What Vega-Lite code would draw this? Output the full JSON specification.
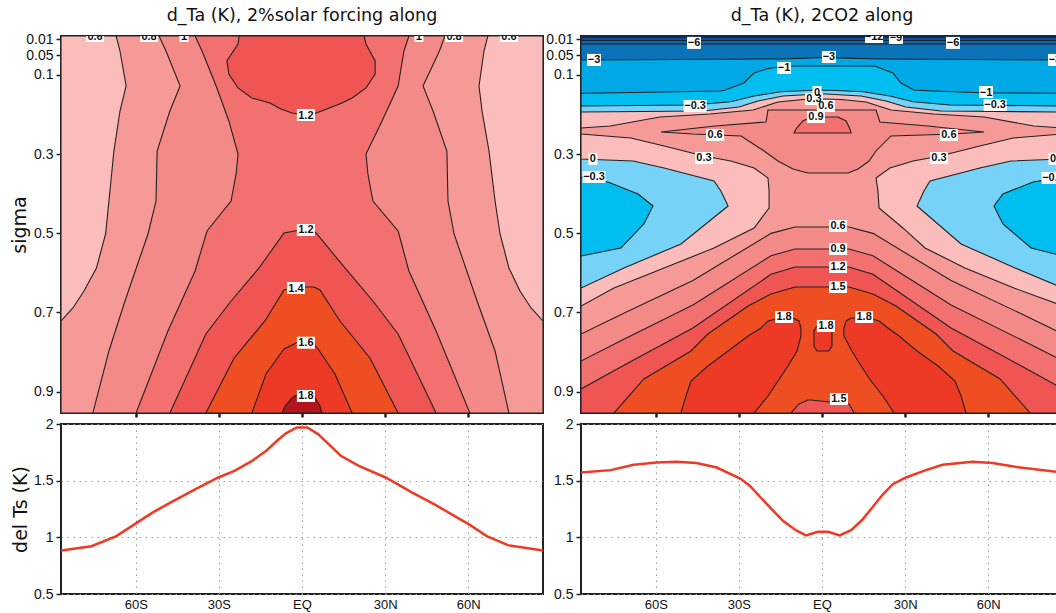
{
  "$schema": "https://vega.github.io/schema/vega-lite/v6.json",
  "padding": {"left": 9, "top": 5, "right": -6, "bottom": 0},
  "background": "white",
  "bounds": "flush",
  "columns": 2,
  "spacing": {"row": 11, "column": 38},
  "resolve": {"scale": {"color": "independent", "x": "independent", "y": "independent"}},
  "config": {
    "view": {"stroke": "#222", "strokeWidth": 2},
    "axis": {"labelFont": "Liberation Sans", "labelFontSize": 14, "labelColor": "#111", "titleFont": "DejaVu Sans", "titleFontSize": 19, "titleFontWeight": "normal", "titleColor": "#111", "domain": false, "tickColor": "#222", "labelPadding": 3},
    "title": {"font": "DejaVu Sans", "fontSize": 17.5, "fontWeight": "normal", "color": "#111", "offset": 8}
  },
  "datasets": {
    "regL": [
      {"id": "L0", "lev": 0, "s": 0.0015, "a": -87, "b": 87},
      {"id": "L0", "lev": 0, "s": 0.954, "a": -87, "b": 87},
      {"id": "L1", "lev": 0.6, "s": 0.0015, "a": -67.1, "b": 67.1},
      {"id": "L1", "lev": 0.6, "s": 0.0394, "a": -65.7, "b": 65.7},
      {"id": "L1", "lev": 0.6, "s": 0.1278, "a": -63.5, "b": 63.9},
      {"id": "L1", "lev": 0.6, "s": 0.191, "a": -65.7, "b": 65.0},
      {"id": "L1", "lev": 0.6, "s": 0.292, "a": -67.9, "b": 67.5},
      {"id": "L1", "lev": 0.6, "s": 0.4184, "a": -69.7, "b": 69.7},
      {"id": "L1", "lev": 0.6, "s": 0.5017, "a": -70.9, "b": 71.5},
      {"id": "L1", "lev": 0.6, "s": 0.5876, "a": -74.2, "b": 74.7},
      {"id": "L1", "lev": 0.6, "s": 0.6457, "a": -78.7, "b": 78.7},
      {"id": "L1", "lev": 0.6, "s": 0.6886, "a": -82.7, "b": 82.7},
      {"id": "L1", "lev": 0.6, "s": 0.7215, "a": -87, "b": 87},
      {"id": "L1", "lev": 0.6, "s": 0.954, "a": -87, "b": 87},
      {"id": "L2", "lev": 0.8, "s": 0.0015, "a": -51.6, "b": 51.6},
      {"id": "L2", "lev": 0.8, "s": 0.0394, "a": -49.1, "b": 49.6},
      {"id": "L2", "lev": 0.8, "s": 0.1278, "a": -44.0, "b": 43.7},
      {"id": "L2", "lev": 0.8, "s": 0.191, "a": -47.7, "b": 47.3},
      {"id": "L2", "lev": 0.8, "s": 0.292, "a": -52.3, "b": 52.3},
      {"id": "L2", "lev": 0.8, "s": 0.4184, "a": -52.7, "b": 52.7},
      {"id": "L2", "lev": 0.8, "s": 0.5017, "a": -55.6, "b": 54.9},
      {"id": "L2", "lev": 0.8, "s": 0.671, "a": -63.9, "b": 63.2},
      {"id": "L2", "lev": 0.8, "s": 0.7973, "a": -69.7, "b": 69.7},
      {"id": "L2", "lev": 0.8, "s": 0.954, "a": -75.5, "b": 74.7},
      {"id": "L3", "lev": 1.0, "s": 0.0015, "a": -38.6, "b": 38.6},
      {"id": "L3", "lev": 1.0, "s": 0.0394, "a": -36.1, "b": 36.8},
      {"id": "L3", "lev": 1.0, "s": 0.1278, "a": -31.0, "b": 34.7},
      {"id": "L3", "lev": 1.0, "s": 0.2162, "a": -26.4, "b": 28.9},
      {"id": "L3", "lev": 1.0, "s": 0.2996, "a": -23.1, "b": 23.1},
      {"id": "L3", "lev": 1.0, "s": 0.3501, "a": -23.8, "b": 23.8},
      {"id": "L3", "lev": 1.0, "s": 0.4184, "a": -25.6, "b": 25.6},
      {"id": "L3", "lev": 1.0, "s": 0.4942, "a": -34.3, "b": 34.7},
      {"id": "L3", "lev": 1.0, "s": 0.5952, "a": -38.6, "b": 38.6},
      {"id": "L3", "lev": 1.0, "s": 0.7468, "a": -48.4, "b": 48.4},
      {"id": "L3", "lev": 1.0, "s": 0.954, "a": -59.9, "b": 60.6},
      {"id": "L4", "lev": 1.2, "s": 0.0015, "a": -22.7, "b": 22.4},
      {"id": "L4", "lev": 1.2, "s": 0.0217, "a": -23.1, "b": 23.1},
      {"id": "L4", "lev": 1.2, "s": 0.0646, "a": -27.1, "b": 26.4},
      {"id": "L4", "lev": 1.2, "s": 0.0975, "a": -26.4, "b": 26.4},
      {"id": "L4", "lev": 1.2, "s": 0.1328, "a": -23.1, "b": 23.1},
      {"id": "L4", "lev": 1.2, "s": 0.158, "a": -18.1, "b": 18.1},
      {"id": "L4", "lev": 1.2, "s": 0.1707, "a": -11.6, "b": 14.4},
      {"id": "L4", "lev": 1.2, "s": 0.1859, "a": -7.6, "b": 9.0},
      {"id": "L4", "lev": 1.2, "s": 0.196, "a": -3.6, "b": 5.1},
      {"id": "L4", "lev": 1.2, "s": 0.2011, "a": 0.7, "b": 0.7},
      {"id": "L5", "lev": 1.2, "s": 0.4916, "a": -0.7, "b": 3.6},
      {"id": "L5", "lev": 1.2, "s": 0.4992, "a": -6.5, "b": 5.1},
      {"id": "L5", "lev": 1.2, "s": 0.5876, "a": -15.5, "b": 15.5},
      {"id": "L5", "lev": 1.2, "s": 0.671, "a": -25.6, "b": 25.6},
      {"id": "L5", "lev": 1.2, "s": 0.7544, "a": -34.7, "b": 34.7},
      {"id": "L5", "lev": 1.2, "s": 0.954, "a": -47.7, "b": 48.4},
      {"id": "L6", "lev": 1.4, "s": 0.6356, "a": -2.5, "b": 4.3},
      {"id": "L6", "lev": 1.4, "s": 0.6432, "a": -6.5, "b": 6.5},
      {"id": "L6", "lev": 1.4, "s": 0.7215, "a": -13.4, "b": 13.7},
      {"id": "L6", "lev": 1.4, "s": 0.815, "a": -24.5, "b": 24.5},
      {"id": "L6", "lev": 1.4, "s": 0.954, "a": -34.7, "b": 34.7},
      {"id": "L7", "lev": 1.6, "s": 0.7746, "a": -1.4, "b": 3.6},
      {"id": "L7", "lev": 1.6, "s": 0.7923, "a": -6.5, "b": 5.8},
      {"id": "L7", "lev": 1.6, "s": 0.8554, "a": -13.0, "b": 11.9},
      {"id": "L7", "lev": 1.6, "s": 0.954, "a": -18.1, "b": 18.1},
      {"id": "L8", "lev": 1.8, "s": 0.9035, "a": -0.7, "b": 2.2},
      {"id": "L8", "lev": 1.8, "s": 0.9161, "a": -3.6, "b": 4.7},
      {"id": "L8", "lev": 1.8, "s": 0.9363, "a": -6.1, "b": 6.5},
      {"id": "L8", "lev": 1.8, "s": 0.954, "a": -7.2, "b": 7.2}
    ],
    "regR": [
      {"id": "R00", "lev": -99, "s": 0.0015, "a": -87, "b": 87},
      {"id": "R00", "lev": -99, "s": 0.954, "a": -87, "b": 87},
      {"id": "R01", "lev": -12, "s": 0.0053, "a": -87, "b": 87},
      {"id": "R01", "lev": -12, "s": 0.954, "a": -87, "b": 87},
      {"id": "R02", "lev": -9, "s": 0.0128, "a": -87, "b": 87},
      {"id": "R02", "lev": -9, "s": 0.954, "a": -87, "b": 87},
      {"id": "R03", "lev": -6, "s": 0.0217, "a": -87, "b": 87},
      {"id": "R03", "lev": -6, "s": 0.954, "a": -87, "b": 87},
      {"id": "R04", "lev": -3, "s": 0.0562, "a": -1, "b": 1},
      {"id": "R04", "lev": -3, "s": 0.0595, "a": -15, "b": 21},
      {"id": "R04", "lev": -3, "s": 0.0621, "a": -87, "b": 87},
      {"id": "R04", "lev": -3, "s": 0.954, "a": -87, "b": 87},
      {"id": "R05", "lev": -1, "s": 0.0773, "a": -12.3, "b": 19.1},
      {"id": "R05", "lev": -1, "s": 0.0836, "a": -19.5, "b": 21.3},
      {"id": "R05", "lev": -1, "s": 0.0949, "a": -24.5, "b": 25.6},
      {"id": "R05", "lev": -1, "s": 0.1202, "a": -28.2, "b": 28.5},
      {"id": "R05", "lev": -1, "s": 0.1379, "a": -35.0, "b": 33.2},
      {"id": "R05", "lev": -1, "s": 0.1404, "a": -36.5, "b": 40.1},
      {"id": "R05", "lev": -1, "s": 0.1447, "a": -74.0, "b": 57.4},
      {"id": "R05", "lev": -1, "s": 0.1462, "a": -87, "b": 87},
      {"id": "R05", "lev": -1, "s": 0.954, "a": -87, "b": 87},
      {"id": "R06", "lev": -0.3, "s": 0.1387, "a": -2.9, "b": 2.9},
      {"id": "R06", "lev": -0.3, "s": 0.1422, "a": -14.8, "b": 14.8},
      {"id": "R06", "lev": -0.3, "s": 0.1531, "a": -24.5, "b": 24.5},
      {"id": "R06", "lev": -0.3, "s": 0.1675, "a": -32.9, "b": 32.9},
      {"id": "R06", "lev": -0.3, "s": 0.1758, "a": -46.2, "b": 46.2},
      {"id": "R06", "lev": -0.3, "s": 0.1783, "a": -87, "b": 87},
      {"id": "R06", "lev": -0.3, "s": 0.3577, "a": -87, "b": 87},
      {"id": "R06", "lev": -0.3, "s": 0.3703, "a": -77.3, "b": 76.2},
      {"id": "R06", "lev": -0.3, "s": 0.4006, "a": -66.4, "b": 65.3},
      {"id": "R06", "lev": -0.3, "s": 0.431, "a": -61.0, "b": 62.1},
      {"id": "R06", "lev": -0.3, "s": 0.4764, "a": -64.3, "b": 65.3},
      {"id": "R06", "lev": -0.3, "s": 0.5371, "a": -72.6, "b": 75.5},
      {"id": "R06", "lev": -0.3, "s": 0.5573, "a": -87, "b": 87},
      {"id": "R06", "lev": -0.3, "s": 0.954, "a": -87, "b": 87},
      {"id": "R07", "lev": 0, "s": 0.148, "a": -1.4, "b": 1.4},
      {"id": "R07", "lev": 0, "s": 0.1531, "a": -14.1, "b": 14.1},
      {"id": "R07", "lev": 0, "s": 0.1657, "a": -23.1, "b": 23.1},
      {"id": "R07", "lev": 0, "s": 0.1808, "a": -30.0, "b": 30.3},
      {"id": "R07", "lev": 0, "s": 0.191, "a": -43.0, "b": 43.0},
      {"id": "R07", "lev": 0, "s": 0.1935, "a": -87, "b": 87},
      {"id": "R07", "lev": 0, "s": 0.3122, "a": -87, "b": 87},
      {"id": "R07", "lev": 0, "s": 0.3173, "a": -68.2, "b": 68.2},
      {"id": "R07", "lev": 0, "s": 0.335, "a": -57.0, "b": 57.0},
      {"id": "R07", "lev": 0, "s": 0.3678, "a": -39.0, "b": 39.0},
      {"id": "R07", "lev": 0, "s": 0.3931, "a": -36.5, "b": 36.8},
      {"id": "R07", "lev": 0, "s": 0.431, "a": -33.9, "b": 34.3},
      {"id": "R07", "lev": 0, "s": 0.527, "a": -50.9, "b": 50.2},
      {"id": "R07", "lev": 0, "s": 0.5876, "a": -71.5, "b": 69.7},
      {"id": "R07", "lev": 0, "s": 0.6382, "a": -87, "b": 87},
      {"id": "R07", "lev": 0, "s": 0.954, "a": -87, "b": 87},
      {"id": "R08", "lev": 0.3, "s": 0.1606, "a": -1.4, "b": 1.4},
      {"id": "R08", "lev": 0.3, "s": 0.1619, "a": -6.9, "b": 6.9},
      {"id": "R08", "lev": 0.3, "s": 0.1682, "a": -15.9, "b": 15.9},
      {"id": "R08", "lev": 0.3, "s": 0.1884, "a": -24.9, "b": 24.9},
      {"id": "R08", "lev": 0.3, "s": 0.1985, "a": -40.4, "b": 40.4},
      {"id": "R08", "lev": 0.3, "s": 0.2061, "a": -58.5, "b": 58.5},
      {"id": "R08", "lev": 0.3, "s": 0.2289, "a": -76.5, "b": 76.5},
      {"id": "R08", "lev": 0.3, "s": 0.2339, "a": -87, "b": 87},
      {"id": "R08", "lev": 0.3, "s": 0.2491, "a": -87, "b": 87},
      {"id": "R08", "lev": 0.3, "s": 0.2592, "a": -69.0, "b": 69.0},
      {"id": "R08", "lev": 0.3, "s": 0.2794, "a": -57.0, "b": 57.0},
      {"id": "R08", "lev": 0.3, "s": 0.3046, "a": -42.6, "b": 42.6},
      {"id": "R08", "lev": 0.3, "s": 0.3173, "a": -32.9, "b": 32.9},
      {"id": "R08", "lev": 0.3, "s": 0.335, "a": -24.5, "b": 24.5},
      {"id": "R08", "lev": 0.3, "s": 0.3602, "a": -19.5, "b": 19.5},
      {"id": "R08", "lev": 0.3, "s": 0.3931, "a": -19.1, "b": 20.2},
      {"id": "R08", "lev": 0.3, "s": 0.436, "a": -19.1, "b": 20.6},
      {"id": "R08", "lev": 0.3, "s": 0.4865, "a": -24.5, "b": 29.2},
      {"id": "R08", "lev": 0.3, "s": 0.5371, "a": -39.0, "b": 37.2},
      {"id": "R08", "lev": 0.3, "s": 0.5876, "a": -57.0, "b": 51.6},
      {"id": "R08", "lev": 0.3, "s": 0.6382, "a": -75.1, "b": 69.3},
      {"id": "R08", "lev": 0.3, "s": 0.6837, "a": -87, "b": 87},
      {"id": "R08", "lev": 0.3, "s": 0.954, "a": -87, "b": 87},
      {"id": "R09", "lev": 0.6, "s": 0.1884, "a": -19.5, "b": 19.5},
      {"id": "R09", "lev": 0.6, "s": 0.2187, "a": -20.2, "b": 20.9},
      {"id": "R09", "lev": 0.6, "s": 0.2289, "a": -38.6, "b": 38.3},
      {"id": "R09", "lev": 0.6, "s": 0.2364, "a": -48.4, "b": 48.4},
      {"id": "R09", "lev": 0.6, "s": 0.244, "a": -58.1, "b": 58.5},
      {"id": "R09", "lev": 0.6, "s": 0.2491, "a": -46.6, "b": 47.3},
      {"id": "R09", "lev": 0.6, "s": 0.2541, "a": -29.2, "b": 24.9},
      {"id": "R09", "lev": 0.6, "s": 0.292, "a": -20.9, "b": 19.5},
      {"id": "R09", "lev": 0.6, "s": 0.3173, "a": -15.9, "b": 17.0},
      {"id": "R09", "lev": 0.6, "s": 0.3375, "a": -10.5, "b": 13.0},
      {"id": "R09", "lev": 0.6, "s": 0.3476, "a": -5.1, "b": 9.4},
      {"id": "R10", "lev": 0.6, "s": 0.4841, "a": -9.7, "b": 9.7},
      {"id": "R10", "lev": 0.6, "s": 0.5002, "a": -18.4, "b": 18.4},
      {"id": "R10", "lev": 0.6, "s": 0.6192, "a": -46.6, "b": 46.6},
      {"id": "R10", "lev": 0.6, "s": 0.7003, "a": -71, "b": 71},
      {"id": "R10", "lev": 0.6, "s": 0.7544, "a": -87, "b": 87},
      {"id": "R10", "lev": 0.6, "s": 0.954, "a": -87, "b": 87},
      {"id": "R11", "lev": 0.9, "s": 0.2061, "a": -4.0, "b": 5.8},
      {"id": "R11", "lev": 0.9, "s": 0.2162, "a": -6.9, "b": 8.7},
      {"id": "R11", "lev": 0.9, "s": 0.2364, "a": -9.4, "b": 10.1},
      {"id": "R11", "lev": 0.9, "s": 0.2465, "a": -10.1, "b": 10.5},
      {"id": "R12", "lev": 0.9, "s": 0.5396, "a": -9.7, "b": 9.7},
      {"id": "R12", "lev": 0.9, "s": 0.5565, "a": -18.4, "b": 18.4},
      {"id": "R12", "lev": 0.9, "s": 0.6811, "a": -46.6, "b": 46.6},
      {"id": "R12", "lev": 0.9, "s": 0.766, "a": -71, "b": 71},
      {"id": "R12", "lev": 0.9, "s": 0.8226, "a": -87, "b": 87},
      {"id": "R12", "lev": 0.9, "s": 0.954, "a": -87, "b": 87},
      {"id": "R13", "lev": 1.2, "s": 0.5851, "a": -9.7, "b": 9.7},
      {"id": "R13", "lev": 1.2, "s": 0.6036, "a": -18.4, "b": 18.4},
      {"id": "R13", "lev": 1.2, "s": 0.7392, "a": -46.6, "b": 46.6},
      {"id": "R13", "lev": 1.2, "s": 0.8317, "a": -71, "b": 71},
      {"id": "R13", "lev": 1.2, "s": 0.8933, "a": -87, "b": 87},
      {"id": "R13", "lev": 1.2, "s": 0.954, "a": -87, "b": 87},
      {"id": "R14", "lev": 1.5, "s": 0.6356, "a": -9.7, "b": 9.7},
      {"id": "R14", "lev": 1.5, "s": 0.6533, "a": -18.4, "b": 18.4},
      {"id": "R14", "lev": 1.5, "s": 0.6837, "a": -26.7, "b": 26.7},
      {"id": "R14", "lev": 1.5, "s": 0.7544, "a": -41.2, "b": 41.2},
      {"id": "R14", "lev": 1.5, "s": 0.7973, "a": -47.3, "b": 47.3},
      {"id": "R14", "lev": 1.5, "s": 0.868, "a": -64.3, "b": 64.3},
      {"id": "R14", "lev": 1.5, "s": 0.954, "a": -75.1, "b": 75.1},
      {"id": "R15", "lev": 1.2, "s": 0.9211, "a": -5.1, "b": -4.0},
      {"id": "R15", "lev": 1.2, "s": 0.9312, "a": -8.3, "b": 9.7},
      {"id": "R15", "lev": 1.2, "s": 0.954, "a": -11.2, "b": 11.6},
      {"id": "R16", "lev": 1.8, "s": 0.714, "a": -14.8, "b": -10.5},
      {"id": "R16", "lev": 1.8, "s": 0.7215, "a": -19.5, "b": -8.3},
      {"id": "R16", "lev": 1.8, "s": 0.7392, "a": -22.0, "b": -7.6},
      {"id": "R16", "lev": 1.8, "s": 0.7594, "a": -26.7, "b": -7.6},
      {"id": "R16", "lev": 1.8, "s": 0.7973, "a": -33.9, "b": -9.0},
      {"id": "R16", "lev": 1.8, "s": 0.8352, "a": -41.2, "b": -12.3},
      {"id": "R16", "lev": 1.8, "s": 0.8731, "a": -47.3, "b": -15.9},
      {"id": "R16", "lev": 1.8, "s": 0.911, "a": -49.1, "b": -19.5},
      {"id": "R16", "lev": 1.8, "s": 0.954, "a": -50.9, "b": -24.5},
      {"id": "R17", "lev": 1.8, "s": 0.7341, "a": -1.8, "b": 2.5},
      {"id": "R17", "lev": 1.8, "s": 0.7468, "a": -2.9, "b": 3.6},
      {"id": "R17", "lev": 1.8, "s": 0.7847, "a": -2.9, "b": 3.6},
      {"id": "R17", "lev": 1.8, "s": 0.7973, "a": -1.8, "b": 2.5},
      {"id": "R18", "lev": 1.8, "s": 0.714, "a": 10.5, "b": 17.0},
      {"id": "R18", "lev": 1.8, "s": 0.7215, "a": 8.7, "b": 20.6},
      {"id": "R18", "lev": 1.8, "s": 0.7392, "a": 7.9, "b": 23.8},
      {"id": "R18", "lev": 1.8, "s": 0.7594, "a": 7.9, "b": 27.8},
      {"id": "R18", "lev": 1.8, "s": 0.7973, "a": 10.8, "b": 34.3},
      {"id": "R18", "lev": 1.8, "s": 0.8352, "a": 14.1, "b": 41.9},
      {"id": "R18", "lev": 1.8, "s": 0.8731, "a": 17.7, "b": 48.0},
      {"id": "R18", "lev": 1.8, "s": 0.911, "a": 22.0, "b": 50.2},
      {"id": "R18", "lev": 1.8, "s": 0.954, "a": 26.0, "b": 52.0}
    ],
    "labL": [
      {"t": "0.6", "lat": -74.7, "s": 0.0015},
      {"t": "0.8", "lat": -55.2, "s": 0.0015},
      {"t": "1", "lat": -42.6, "s": 0.0015},
      {"t": "1", "lat": 42.2, "s": 0.0015},
      {"t": "0.8", "lat": 54.9, "s": 0.0015},
      {"t": "0.6", "lat": 74.7, "s": 0.0015},
      {"t": "1.2", "lat": 1.4, "s": 0.2011},
      {"t": "1.2", "lat": 1.4, "s": 0.4916},
      {"t": "1.4", "lat": -2.2, "s": 0.6382},
      {"t": "1.6", "lat": 1.4, "s": 0.7764},
      {"t": "1.8", "lat": 1.4, "s": 0.911}
    ],
    "labR": [
      {"t": "−12", "lat": 18.8, "s": 0.004},
      {"t": "−9", "lat": 26.7, "s": 0.0065},
      {"t": "−6", "lat": -46.2, "s": 0.019},
      {"t": "−6", "lat": 47.3, "s": 0.019},
      {"t": "−3", "lat": -82.3, "s": 0.062},
      {"t": "−3", "lat": 2.5, "s": 0.0545},
      {"t": "−3", "lat": 84.1, "s": 0.062},
      {"t": "−1", "lat": -13.7, "s": 0.0823},
      {"t": "−1", "lat": 59.2, "s": 0.143},
      {"t": "−0.3", "lat": -45.8, "s": 0.1783},
      {"t": "−0.3", "lat": 62.5, "s": 0.1758},
      {"t": "0", "lat": -1.8, "s": 0.143},
      {"t": "0.3", "lat": -2.9, "s": 0.1606},
      {"t": "0.6", "lat": 1.4, "s": 0.1783},
      {"t": "0.9", "lat": -2.2, "s": 0.2061},
      {"t": "0.6", "lat": -38.6, "s": 0.2516},
      {"t": "0.6", "lat": 45.8, "s": 0.2516},
      {"t": "0.3", "lat": -42.6, "s": 0.3097},
      {"t": "0.3", "lat": 42.2, "s": 0.3097},
      {"t": "0", "lat": -82.7, "s": 0.312},
      {"t": "0", "lat": 83.4, "s": 0.312},
      {"t": "−0.3", "lat": -82.3, "s": 0.3577},
      {"t": "−0.3", "lat": 83.4, "s": 0.36},
      {"t": "0.6", "lat": 5.8, "s": 0.4815},
      {"t": "0.9", "lat": 5.8, "s": 0.5396},
      {"t": "1.2", "lat": 5.8, "s": 0.5851},
      {"t": "1.5", "lat": 5.8, "s": 0.6356},
      {"t": "1.8", "lat": -13.7, "s": 0.7114},
      {"t": "1.8", "lat": 15.2, "s": 0.7114},
      {"t": "1.8", "lat": 1.4, "s": 0.7341},
      {"t": "1.5", "lat": 6.1, "s": 0.9186}
    ],
    "tsL": [
      {"lat": -87, "v": 0.884}, {"lat": -76, "v": 0.922}, {"lat": -67, "v": 1.011},
      {"lat": -60.5, "v": 1.114}, {"lat": -54, "v": 1.218}, {"lat": -47.5, "v": 1.306},
      {"lat": -38.6, "v": 1.424}, {"lat": -30.2, "v": 1.528}, {"lat": -24.4, "v": 1.587},
      {"lat": -18, "v": 1.675}, {"lat": -12.9, "v": 1.764}, {"lat": -9, "v": 1.852},
      {"lat": -5.8, "v": 1.917}, {"lat": -1.9, "v": 1.97}, {"lat": 1.9, "v": 1.97},
      {"lat": 5.8, "v": 1.911}, {"lat": 9.6, "v": 1.823}, {"lat": 14, "v": 1.72},
      {"lat": 20.5, "v": 1.63}, {"lat": 30.2, "v": 1.528}, {"lat": 39.8, "v": 1.395},
      {"lat": 48.8, "v": 1.277}, {"lat": 60.3, "v": 1.114}, {"lat": 66.7, "v": 1.011},
      {"lat": 74.3, "v": 0.931}, {"lat": 87, "v": 0.884}
    ],
    "tsR": [
      {"lat": -87, "v": 1.572}, {"lat": -76.3, "v": 1.593}, {"lat": -68, "v": 1.64},
      {"lat": -59.7, "v": 1.66}, {"lat": -52.5, "v": 1.666}, {"lat": -45.3, "v": 1.655},
      {"lat": -38, "v": 1.616}, {"lat": -29.5, "v": 1.519}, {"lat": -26, "v": 1.454},
      {"lat": -18.7, "v": 1.262}, {"lat": -14, "v": 1.144}, {"lat": -9.3, "v": 1.061},
      {"lat": -5.8, "v": 1.017}, {"lat": -1.5, "v": 1.049}, {"lat": 2.2, "v": 1.049},
      {"lat": 6.4, "v": 1.017}, {"lat": 10.5, "v": 1.064}, {"lat": 14.7, "v": 1.159},
      {"lat": 22, "v": 1.38}, {"lat": 25.6, "v": 1.469}, {"lat": 30.3, "v": 1.528},
      {"lat": 37.5, "v": 1.593}, {"lat": 43.5, "v": 1.64}, {"lat": 54.3, "v": 1.666},
      {"lat": 61.5, "v": 1.655}, {"lat": 69.8, "v": 1.622}, {"lat": 87, "v": 1.572}
    ]
  },
  "concat": [
    {
      "width": 482,
      "height": 377,
      "title": {"text": "d_Ta (K), 2%solar forcing along"},
      "layer": [
        {
          "data": {"name": "regL"},
          "mark": {"type": "area", "orient": "horizontal", "stroke": "#222", "strokeWidth": 1.1, "opacity": 1, "fillOpacity": 1, "clip": true},
          "encoding": {
            "y": {"field": "s", "type": "quantitative", "scale": {"domain": [0.0015, 0.954], "reverse": true, "nice": false, "zero": false},
                  "axis": {"values": [0.01, 0.05, 0.1, 0.3, 0.5, 0.7, 0.9], "format": "~g", "title": "sigma", "grid": false, "tickSize": 5, "tickWidth": 1.5, "titlePadding": -4}},
            "x": {"field": "a", "type": "quantitative", "stack": null, "scale": {"domain": [-87, 87], "nice": false, "zero": false},
                  "axis": {"values": [-60, -30, 0, 30, 60], "labels": false, "title": null, "grid": false, "tickSize": 4, "tickWidth": 2.5}},
            "x2": {"field": "b"},
            "color": {"field": "lev", "type": "quantitative", "legend": null,
                      "scale": {"type": "threshold", "domain": [0.6, 0.8, 1, 1.2, 1.4, 1.6, 1.8],
                                "range": ["#fbbcbc", "#f59a96", "#f48a87", "#f2706e", "#ef5552", "#ef4e23", "#ec3a27", "#b2161c"]}},
            "detail": {"field": "id", "type": "nominal"}
          }
        },
        {
          "data": {"name": "labL"},
          "mark": {"type": "point", "filled": true, "fill": "white", "strokeWidth": 0, "opacity": 1, "clip": true},
          "encoding": {
            "x": {"field": "lat", "type": "quantitative", "scale": {"domain": [-87, 87], "nice": false, "zero": false},
                  "axis": {"values": [-60, -30, 0, 30, 60], "labels": false, "title": null, "grid": false, "tickSize": 4, "tickWidth": 2.5}},
            "y": {"field": "s", "type": "quantitative", "scale": {"domain": [0.0015, 0.954], "reverse": true, "nice": false, "zero": false},
                  "axis": {"values": [0.01, 0.05, 0.1, 0.3, 0.5, 0.7, 0.9], "format": "~g", "title": "sigma", "grid": false, "tickSize": 5, "tickWidth": 1.5, "titlePadding": -4}},
            "size": {"value": 100},
            "shape": {"condition": [
              {"test": "length(datum.t) == 1", "value": "M-0.9,-1.2H0.9V1.2H-0.9Z"},
              {"test": "length(datum.t) == 2", "value": "M-1.4,-1.2H1.4V1.2H-1.4Z"},
              {"test": "length(datum.t) == 3", "value": "M-1.8,-1.2H1.8V1.2H-1.8Z"}],
              "value": "M-2.3,-1.2H2.3V1.2H-2.3Z"}
          }
        },
        {
          "data": {"name": "labL"},
          "mark": {"type": "text", "font": "Liberation Sans", "fontSize": 11, "fontWeight": "bold", "color": "#111", "baseline": "middle", "dy": 0.5, "clip": true},
          "encoding": {
            "x": {"field": "lat", "type": "quantitative", "scale": {"domain": [-87, 87], "nice": false, "zero": false},
                  "axis": {"values": [-60, -30, 0, 30, 60], "labels": false, "title": null, "grid": false, "tickSize": 4, "tickWidth": 2.5}},
            "y": {"field": "s", "type": "quantitative", "scale": {"domain": [0.0015, 0.954], "reverse": true, "nice": false, "zero": false},
                  "axis": {"values": [0.01, 0.05, 0.1, 0.3, 0.5, 0.7, 0.9], "format": "~g", "title": "sigma", "grid": false, "tickSize": 5, "tickWidth": 1.5, "titlePadding": -4}},
            "text": {"field": "t"}
          }
        }
      ]
    },
    {
      "width": 482,
      "height": 377,
      "title": {"text": "d_Ta (K), 2CO2 along"},
      "layer": [
        {
          "data": {"name": "regR"},
          "mark": {"type": "area", "orient": "horizontal", "stroke": "#222", "strokeWidth": 1.1, "opacity": 1, "fillOpacity": 1, "clip": true},
          "encoding": {
            "y": {"field": "s", "type": "quantitative", "scale": {"domain": [0.0015, 0.954], "reverse": true, "nice": false, "zero": false},
                  "axis": {"values": [0.01, 0.05, 0.1, 0.3, 0.5, 0.7, 0.9], "format": "~g", "title": null, "grid": false, "tickSize": 5, "tickWidth": 1.5}},
            "x": {"field": "a", "type": "quantitative", "stack": null, "scale": {"domain": [-87, 87], "nice": false, "zero": false},
                  "axis": {"values": [-60, -30, 0, 30, 60], "labels": false, "title": null, "grid": false, "tickSize": 4, "tickWidth": 2.5}},
            "x2": {"field": "b"},
            "color": {"field": "lev", "type": "quantitative", "legend": null,
                      "scale": {"type": "threshold", "domain": [-12, -9, -6, -3, -1, -0.3, 0, 0.3, 0.6, 0.9, 1.2, 1.5, 1.8],
                                "range": ["#0a3d82", "#0d4f9b", "#1462aa", "#0b73b8", "#00a8e5", "#00bef0", "#76d2f6", "#fbbcbc", "#f59a96", "#f48a87", "#f2706e", "#ef5552", "#ef4e23", "#ec3a27"]}},
            "detail": {"field": "id", "type": "nominal"},
            "strokeDash": {"condition": {"test": "datum.lev < 0", "value": [4, 3]}, "value": [1, 0]}
          }
        },
        {
          "data": {"name": "labR"},
          "mark": {"type": "point", "filled": true, "fill": "white", "strokeWidth": 0, "opacity": 1, "clip": true},
          "encoding": {
            "x": {"field": "lat", "type": "quantitative", "scale": {"domain": [-87, 87], "nice": false, "zero": false},
                  "axis": {"values": [-60, -30, 0, 30, 60], "labels": false, "title": null, "grid": false, "tickSize": 4, "tickWidth": 2.5}},
            "y": {"field": "s", "type": "quantitative", "scale": {"domain": [0.0015, 0.954], "reverse": true, "nice": false, "zero": false},
                  "axis": {"values": [0.01, 0.05, 0.1, 0.3, 0.5, 0.7, 0.9], "format": "~g", "title": null, "grid": false, "tickSize": 5, "tickWidth": 1.5}},
            "size": {"value": 100},
            "shape": {"condition": [
              {"test": "length(datum.t) == 1", "value": "M-0.9,-1.2H0.9V1.2H-0.9Z"},
              {"test": "length(datum.t) == 2", "value": "M-1.4,-1.2H1.4V1.2H-1.4Z"},
              {"test": "length(datum.t) == 3", "value": "M-1.8,-1.2H1.8V1.2H-1.8Z"}],
              "value": "M-2.3,-1.2H2.3V1.2H-2.3Z"}
          }
        },
        {
          "data": {"name": "labR"},
          "mark": {"type": "text", "font": "Liberation Sans", "fontSize": 11, "fontWeight": "bold", "color": "#111", "baseline": "middle", "dy": 0.5, "clip": true},
          "encoding": {
            "x": {"field": "lat", "type": "quantitative", "scale": {"domain": [-87, 87], "nice": false, "zero": false},
                  "axis": {"values": [-60, -30, 0, 30, 60], "labels": false, "title": null, "grid": false, "tickSize": 4, "tickWidth": 2.5}},
            "y": {"field": "s", "type": "quantitative", "scale": {"domain": [0.0015, 0.954], "reverse": true, "nice": false, "zero": false},
                  "axis": {"values": [0.01, 0.05, 0.1, 0.3, 0.5, 0.7, 0.9], "format": "~g", "title": null, "grid": false, "tickSize": 5, "tickWidth": 1.5}},
            "text": {"field": "t"}
          }
        }
      ]
    },
    {
      "width": 482,
      "height": 170,
      "data": {"name": "tsL"},
      "mark": {"type": "line", "color": "#ee3a24", "strokeWidth": 2.5, "clip": true},
      "encoding": {
        "x": {"field": "lat", "type": "quantitative", "scale": {"domain": [-87, 87], "nice": false, "zero": false},
              "axis": {"values": [-60, -30, 0, 30, 60], "labelExpr": "datum.value < 0 ? (-datum.value) + 'S' : (datum.value > 0 ? datum.value + 'N' : 'EQ')", "title": null, "grid": true, "gridDash": [1.5, 4.5], "gridColor": "#999", "ticks": false, "tickSize": 0, "labelPadding": 4, "labelFontSize": 13}},
        "y": {"field": "v", "type": "quantitative", "scale": {"domain": [0.5, 2], "nice": false, "zero": false},
              "axis": {"values": [0.5, 1, 1.5, 2], "format": "~g", "title": "del Ts (K)", "grid": true, "gridDash": [1.5, 4.5], "gridColor": "#999", "tickSize": 5, "tickWidth": 1.5, "titlePadding": 3.5}}
      }
    },
    {
      "width": 482,
      "height": 170,
      "data": {"name": "tsR"},
      "mark": {"type": "line", "color": "#ee3a24", "strokeWidth": 2.5, "clip": true},
      "encoding": {
        "x": {"field": "lat", "type": "quantitative", "scale": {"domain": [-87, 87], "nice": false, "zero": false},
              "axis": {"values": [-60, -30, 0, 30, 60], "labelExpr": "datum.value < 0 ? (-datum.value) + 'S' : (datum.value > 0 ? datum.value + 'N' : 'EQ')", "title": null, "grid": true, "gridDash": [1.5, 4.5], "gridColor": "#999", "ticks": false, "tickSize": 0, "labelPadding": 4, "labelFontSize": 13}},
        "y": {"field": "v", "type": "quantitative", "scale": {"domain": [0.5, 2], "nice": false, "zero": false},
              "axis": {"values": [0.5, 1, 1.5, 2], "format": "~g", "title": null, "grid": true, "gridDash": [1.5, 4.5], "gridColor": "#999", "tickSize": 5, "tickWidth": 1.5}}
      }
    }
  ]
}
